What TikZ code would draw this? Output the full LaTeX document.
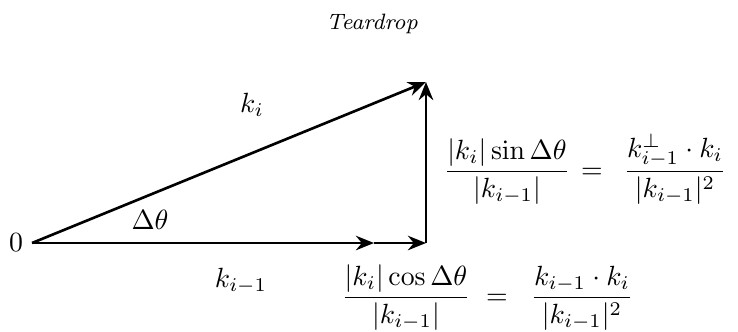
\documentclass[tikz,border=0pt]{standalone}
\usetikzlibrary{arrows.meta,positioning}
\tikzset{
  vec/.style={-{Stealth[length=6.5pt,width=5.2pt]}, line width=0.95pt, black},
  eqn/.style={font=\normalsize, inner sep=0pt, anchor=base},
  lbl/.style={font=\normalsize, inner sep=1pt}
}
\begin{document}
\begin{tikzpicture}[x=0.36pt, y=-0.36pt]
\useasboundingbox (0,0) rectangle (738,331);

% ── Title ─────────────────────────────────────────────────────────
\node[font=\footnotesize\itshape] (title) at (372, 24) {Teardrop};

% ── Points ────────────────────────────────────────────────────────
\coordinate (orig) at (32, 243);
\coordinate (mid) at (374, 243);
\coordinate (corner) at (426, 243);
\coordinate (tip) at (426, 82);

\node[lbl, anchor=east] (zero) at ([xshift=-2pt]orig) {$0$};

% ── Vectors ───────────────────────────────────────────────────────
\draw[vec] (orig) -- (tip);
\draw[vec] (orig) -- (mid);
\draw[vec] (mid) -- (corner);
\draw[vec] (corner) -- (tip);

% ── Labels ────────────────────────────────────────────────────────
\node[lbl] (ki) at (252, 105) {$k_i$};
\node[lbl] (dtheta) at (150, 220) {$\Delta\theta$};
\node[lbl] (kprev) at (241, 281) {$k_{i-1}$};

% ── Projections (baseline = bar + axis) ───────────────────────────
\node[eqn] (sinl) at (507, 178)
  {$\displaystyle \frac{|k_i|\sin\Delta\theta}{|k_{i-1}|}$};
\node[eqn] (sineq) at (592, 178) {$=$};
\node[eqn] (sinr) at (675, 178)
  {$\displaystyle \frac{k_{i-1}^{\perp}\cdot k_i}{|k_{i-1}|^2}$};

\node[eqn] (cosl) at (406, 304)
  {$\displaystyle \frac{|k_i|\cos\Delta\theta}{|k_{i-1}|}$};
\node[eqn] (coseq) at (497, 304) {$=$};
\node[eqn] (cosr) at (582, 304)
  {$\displaystyle \frac{k_{i-1}\cdot k_i}{|k_{i-1}|^2}$};

\end{tikzpicture}
\end{document}
